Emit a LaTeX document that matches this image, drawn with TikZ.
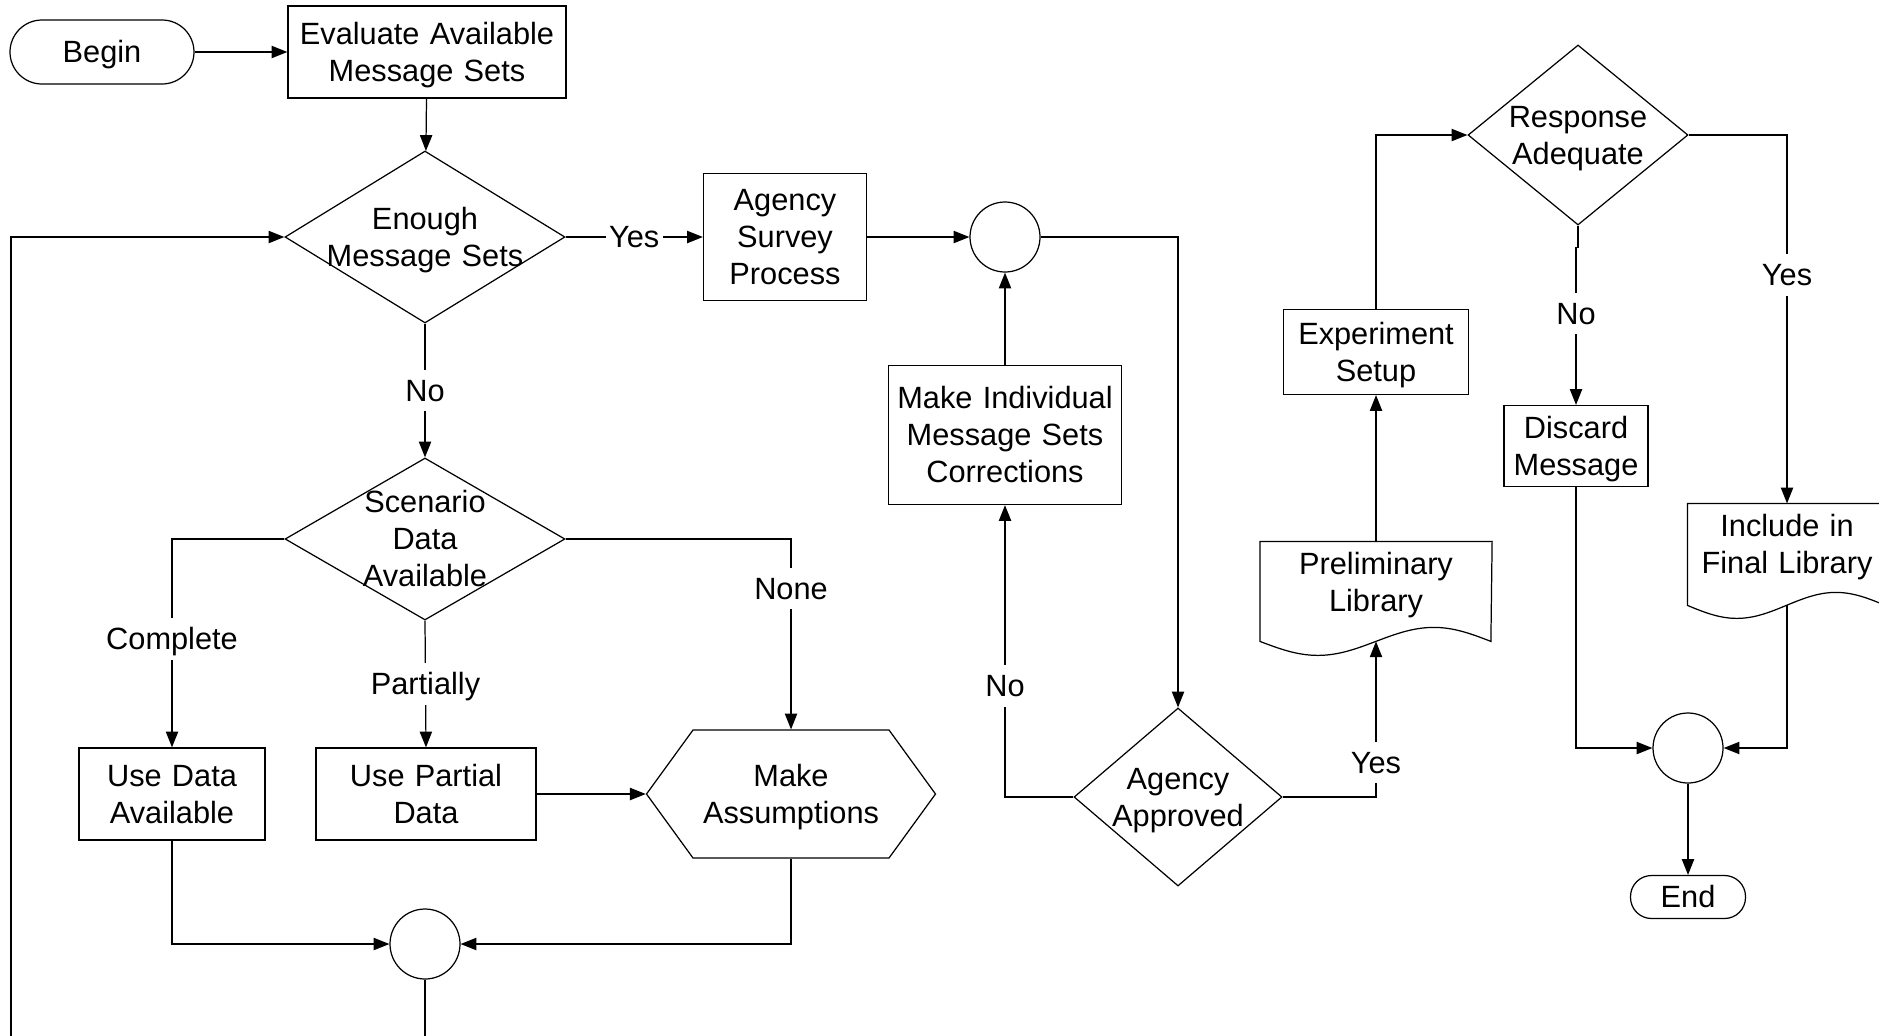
\documentclass[tikz,border=0pt]{standalone}
\usepackage{fontspec}
\setmainfont{Liberation Sans}
\usetikzlibrary{arrows.meta,positioning,calc,shapes.geometric,shapes.symbols}
\newdimen\px \px=0.02cm
\tikzset{
every node/.append style={execute at begin node={\rule{0pt}{.905em}}, execute at end node={\rule[-.212em]{0pt}{0pt}}},
flowbox/.style={draw, fill=white, align=center, inner sep=0pt, minimum width=#1, text width=#1},
flowterm/.style={draw, fill=white, rounded corners=#1, align=center, inner sep=0pt},
flowdiam/.style={draw, fill=white, diamond, inner sep=0pt},
flowjoin/.style={draw, fill=white, circle, minimum size=70\px, inner sep=0pt},
flowhex/.style={draw, fill=white, signal, signal to=east and west, signal pointer angle=108, align=center, inner sep=0pt, text width=190\px},
flowdoc/.style={align=center, inner sep=0pt, minimum width=#1, text width=#1},
flowtext/.style={align=center, inner sep=0pt, text width=220\px},
flowlabel/.style={fill=white, inner sep=2pt},
flowarrow/.style={->},
flowline/.style={draw}
}

\begin{document}
\begin{tikzpicture}[x=0.02cm, y=-0.02cm, line width=0.7pt, font=\fontsize{17.5}{21}\selectfont, >={Triangle[length=9pt,width=7pt]}]
  \useasboundingbox (0,0) rectangle (1879,1035);
  % left column
  \node[flowterm=32\px, minimum width=184\px, minimum height=64\px] (begin) at (102,52) {Begin};
  \node[flowbox=278\px, minimum height=92\px] (eval) at (427,52) {Evaluate Available\\Message Sets};
  \node[flowdiam, minimum width=280\px, minimum height=172\px, label={[flowtext]center:Enough\\Message Sets}] (enough) at (425,237) {};
  \node[flowdiam, minimum width=280\px, minimum height=162\px, label={[flowtext]center:Scenario\\Data\\Available}] (scenario) at (425,539) {};
  \node[flowbox=186\px, minimum height=92\px] (usedata) at (172,794) {Use Data\\Available};
  \node[flowbox=220\px, minimum height=92\px] (usepartial) at (426,794) {Use Partial\\Data};
  \node[flowhex, minimum width=289\px, minimum height=128\px] (assume) at (791,794) {Make\\Assumptions};
  \node[flowjoin] (cbot) at (425,944) {};
  \coordinate (loopbot) at (11,1100);
  % middle
  \node[flowbox=163\px, minimum height=127\px] (survey) at (785,237) {Agency\\Survey\\Process};
  \node[flowjoin] (c1) at (1005,237) {};
  \node[flowbox=233\px, minimum height=139\px] (makeind) at (1005,435) {Make Individual\\Message Sets\\Corrections};
  \node[flowdiam, minimum width=208\px, minimum height=178\px, label={[flowtext]center:Agency\\Approved}] (approved) at (1178,797) {};
  % right
  \node[flowdoc=231\px, minimum height=80\px] (prelim) at (1376,582) {Preliminary\\Library};
  \draw[flowline] (prelim.north west) -- ++(0,100) sin ++(58,14) cos ++(58,-14) sin ++(58,-14) cos ++(57,14) -- (prelim.north east) -- cycle;
  \coordinate (prelimwave) at ($(prelim.north)+(0,100)$);
  \node[flowbox=185\px, minimum height=85\px] (experiment) at (1376,352) {Experiment\\Setup};
  \node[flowdiam, minimum width=220\px, minimum height=180\px, label={[flowtext]center:Response\\Adequate}] (response) at (1578,135) {};
  \node[flowbox=144\px, minimum height=81\px] (discard) at (1576,446) {Discard\\Message};
  \node[flowdoc=198\px, minimum height=80\px] (incl) at (1787,544) {Include in\\Final Library};
  \draw[flowline] (incl.north west) -- ++(0,102) sin ++(49.5,13) cos ++(49.5,-13) sin ++(49.5,-13) cos ++(49.5,13) -- (incl.north east) -- cycle;
  \coordinate (inclwave) at ($(incl.north)+(0,102)$);
  \node[flowjoin] (cend) at (1688,748) {};
  \node[flowterm=21\px, minimum width=115\px, minimum height=43\px] (end) at (1688,897) {End};

  \draw[flowarrow] (begin) -- (eval);
  \draw[flowarrow] (eval) -- (enough);
  \draw[flowarrow] (enough.east) -- node[flowlabel] {Yes} (survey.west);
  \draw[flowarrow] (enough.south) -- node[flowlabel] {No} (scenario.north);
  \draw[flowarrow] (scenario.west) -| node[flowlabel, pos=0.74] {Complete} (usedata.north);
  \draw[flowarrow] (scenario.south) -- node[flowlabel] {Partially} (usepartial.north);
  \draw[flowarrow] (scenario.east) -| node[flowlabel, pos=0.63] {None} (assume.north);
  \draw[flowarrow] (usepartial.east) -- (assume.west);
  \draw[flowarrow] (usedata.south) |- (cbot.west);
  \draw[flowarrow] (assume.south) |- (cbot.east);
  \draw[flowarrow] (cbot.south) |- (loopbot) |- (enough.west);
  \draw[flowarrow] (survey) -- (c1);
  \draw[flowarrow] (c1.east) -| (approved.north);
  \draw[flowarrow] (approved.west) -| node[flowlabel, pos=0.69] {No} (makeind.south);
  \draw[flowarrow] (makeind) -- (c1);
  \draw[flowarrow] (approved.east) -| node[flowlabel, pos=0.61] {Yes} (prelimwave);
  \draw[flowarrow] (prelim.north) -- (experiment.south);
  \draw[flowarrow] (experiment.north) |- (response.west);
  \draw[flowarrow] (response.south) -- ++(0,22) -| node[flowlabel, pos=0.71] {No} (discard.north);
  \draw[flowarrow] (response.east) -| node[flowlabel, pos=0.69] {Yes} (incl.north);
  \draw[flowarrow] (discard.south) |- (cend.west);
  \draw[flowarrow] (inclwave) |- (cend.east);
  \draw[flowarrow] (cend) -- (end);
\end{tikzpicture}
\end{document}
